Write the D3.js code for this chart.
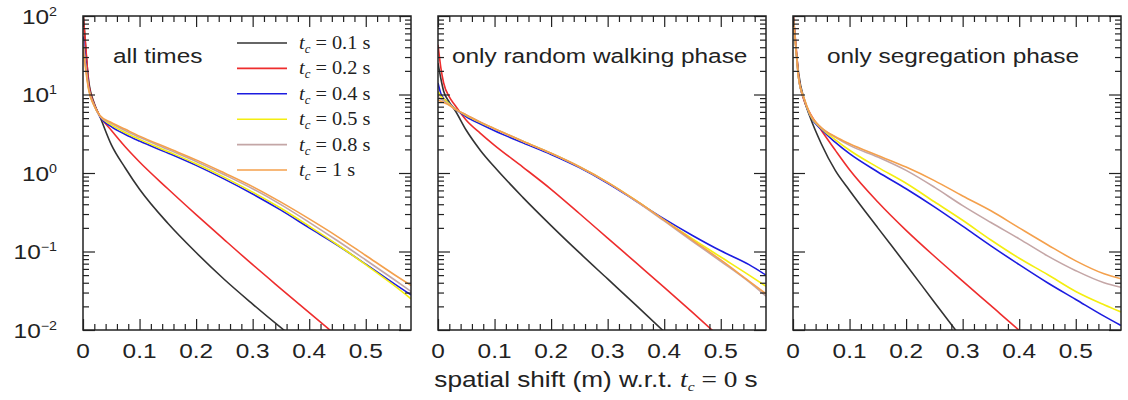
<!DOCTYPE html>
<html lang="en">
<head>
<meta charset="UTF-8">
<title>Spatial shift distributions</title>
<style>
  body { margin: 0; background: #fff; }
  svg { display: block; }
  .sans { font-family: "Liberation Sans", Arial, sans-serif; fill: #222; }
  .serif { font-family: "Liberation Serif", "Times New Roman", serif; fill: #222; }
  .tick line { stroke: #222; stroke-width: 1.2; }
  .tick text { display: none; }
  .domain { display: none; }
</style>
</head>
<body>
<svg id="chart" width="1128" height="400"></svg>
<script src="https://d3js.org/d3.v7.min.js"></script>
<script>
// ---- data ----
var shiftX = [0, 0.005, 0.01, 0.02, 0.03, 0.05, 0.075, 0.1, 0.15, 0.2, 0.25, 0.3, 0.35, 0.4, 0.45, 0.5, 0.55, 0.58];

var seriesLabels = ["0.1", "0.2", "0.4", "0.5", "0.8", "1"];
var seriesColors = ["#333333", "#ee2d2d", "#1c1ce0", "#f4ee10", "#c4a6a6", "#f4a04c"];

var panelTitles = ["all times", "only random walking phase", "only segregation phase"];
var xTicks = [0, 0.1, 0.2, 0.3, 0.4, 0.5];
var yTickExp = ["2", "1", "0", "\u22121", "\u22122"];
var yTickVals = [100, 10, 1, 0.1, 0.01];

// panel 1: all times
var allTimes = [
  [120, 37, 15, 7.7, 5.2, 2.3, 1.15, 0.62, 0.229, 0.097, 0.044, 0.0214, 0.0107, 0.0055, null, null, null, null],
  [110, 40, 14, 7.5, 5.3, 3.5, 2.14, 1.38, 0.63, 0.295, 0.141, 0.068, 0.0335, 0.0166, 0.0083, null, null, null],
  [55, 25, 12.5, 7.3, 5.2, 3.9, 3.1, 2.55, 1.8, 1.25, 0.835, 0.54, 0.336, 0.2, 0.12, 0.069, 0.039, 0.028],
  [45, 22, 12, 7.2, 5.3, 4.1, 3.25, 2.68, 1.88, 1.31, 0.88, 0.57, 0.355, 0.21, 0.122, 0.068, 0.037, 0.025],
  [50, 22, 12, 7.2, 5.3, 4.3, 3.45, 2.85, 2.0, 1.4, 0.95, 0.63, 0.395, 0.235, 0.137, 0.078, 0.044, 0.031],
  [40, 20, 11.5, 7.1, 5.4, 4.4, 3.6, 2.95, 2.08, 1.47, 1.0, 0.67, 0.425, 0.26, 0.155, 0.089, 0.051, 0.037]
];

// panel 2: only random walking phase
var randomWalk = [
  [25, 16, 11, 8, 6.3, 3.5, 1.94, 1.19, 0.49, 0.214, 0.0966, 0.0447, 0.0207, 0.0095, null, null, null, null],
  [43, 22, 14, 9.3, 7.3, 4.7, 3.2, 2.25, 1.19, 0.62, 0.305, 0.148, 0.072, 0.035, 0.0168, 0.0079, null, null],
  [14, 10.3, 8.9, 7.7, 6.6, 5.2, 4.2, 3.45, 2.42, 1.72, 1.17, 0.74, 0.44, 0.26, 0.16, 0.102, 0.068, 0.05],
  [11, 9.5, 8.8, 7.6, 6.6, 5.4, 4.4, 3.65, 2.53, 1.78, 1.2, 0.76, 0.447, 0.251, 0.145, 0.085, 0.05, 0.036],
  [9.5, 8.8, 8.3, 7.4, 6.5, 5.5, 4.45, 3.67, 2.54, 1.78, 1.2, 0.755, 0.44, 0.245, 0.135, 0.075, 0.041, 0.027],
  [8.5, 8.2, 7.9, 7.3, 6.5, 5.5, 4.45, 3.67, 2.54, 1.78, 1.2, 0.76, 0.447, 0.251, 0.14, 0.078, 0.042, 0.029]
];

// panel 3: only segregation phase
var segregation = [
  [120, 41, 18.5, 8.5, 5.2, 2.36, 1.07, 0.6, 0.2, 0.068, 0.0226, 0.0076, null, null, null, null, null, null],
  [110, 45, 17, 8.2, 5.8, 3.5, 1.94, 1.1, 0.427, 0.186, 0.087, 0.042, 0.0204, 0.0099, 0.0047, null, null, null],
  [100, 40, 16, 8.5, 5.4, 3.6, 2.45, 1.76, 1.03, 0.63, 0.37, 0.21, 0.118, 0.068, 0.04, 0.0245, 0.015, 0.0114],
  [100, 40, 16, 8.6, 5.5, 3.7, 2.65, 1.95, 1.18, 0.74, 0.43, 0.25, 0.14, 0.082, 0.051, 0.031, 0.021, 0.017],
  [100, 40, 16, 8.7, 5.6, 3.75, 2.85, 2.25, 1.6, 1.08, 0.66, 0.384, 0.234, 0.145, 0.088, 0.057, 0.04, 0.035],
  [100, 40, 16, 8.8, 5.7, 3.8, 2.9, 2.36, 1.67, 1.19, 0.8, 0.51, 0.33, 0.2, 0.122, 0.076, 0.052, 0.045]
];

var panelData = [allTimes, randomWalk, segregation];

// ---- layout ----
var SX = 1.19;               // reference text is drawn a bit wide
var panelLeft = [83, 438, 793];
var pw = 328, plotTop = 16, plotBottom = 330;
var titleOffset = [30, 14, 34];

var svg = d3.select("#chart");

var y = d3.scaleLog().domain([0.01, 100]).range([plotBottom, plotTop]);

var yMinor = [];
[0.01, 0.1, 1, 10].forEach(function(d) {
  for (var k = 2; k <= 9; k++) yMinor.push(d * k);
});
var xMinor = d3.range(0.02, 0.58, 0.02).filter(function(v) {
  return Math.abs(v * 10 - Math.round(v * 10)) > 1e-6;
});

function stretched(parent, x, yy, cls, size, anchor) {
  return parent.append("text")
    .attr("class", cls)
    .attr("transform", "translate(" + x + "," + yy + ") scale(" + SX + ",1)")
    .attr("text-anchor", anchor)
    .style("font-size", size + "px");
}

panelData.forEach(function(series, p) {
  var left = panelLeft[p];
  var x = d3.scaleLinear().domain([0, 0.58]).range([left, left + pw]);
  var g = svg.append("g");

  g.append("clipPath").attr("id", "clip" + p)
    .append("rect").attr("x", left).attr("y", plotTop).attr("width", pw).attr("height", plotBottom - plotTop);

  var line = d3.line()
    .defined(function(d) { return d != null; })
    .x(function(d, i) { return x(shiftX[i]); })
    .y(function(d) { return y(d); })
    .curve(d3.curveMonotoneX);

  g.append("g").attr("clip-path", "url(#clip" + p + ")")
    .selectAll("path").data(series).enter().append("path")
    .attr("d", line)
    .attr("fill", "none")
    .attr("stroke", function(d, i) { return seriesColors[i]; })
    .attr("stroke-width", 1.6);

  // ticks pointing inward on all four sides
  g.append("g").attr("transform", "translate(0," + plotBottom + ")")
    .call(d3.axisBottom(x).tickValues(xTicks).tickSize(-11));
  g.append("g").attr("transform", "translate(0," + plotBottom + ")")
    .call(d3.axisBottom(x).tickValues(xMinor).tickSize(-6));
  g.append("g").attr("transform", "translate(0," + plotTop + ")")
    .call(d3.axisTop(x).tickValues(xTicks).tickSize(-11));
  g.append("g").attr("transform", "translate(0," + plotTop + ")")
    .call(d3.axisTop(x).tickValues(xMinor).tickSize(-6));
  g.append("g").attr("transform", "translate(" + left + ",0)")
    .call(d3.axisLeft(y).tickValues(yTickVals).tickSize(-12));
  g.append("g").attr("transform", "translate(" + left + ",0)")
    .call(d3.axisLeft(y).tickValues(yMinor).tickSize(-6));
  g.append("g").attr("transform", "translate(" + (left + pw) + ",0)")
    .call(d3.axisRight(y).tickValues(yTickVals).tickSize(-12));
  g.append("g").attr("transform", "translate(" + (left + pw) + ",0)")
    .call(d3.axisRight(y).tickValues(yMinor).tickSize(-6));

  g.append("rect")
    .attr("x", left).attr("y", plotTop).attr("width", pw).attr("height", plotBottom - plotTop)
    .attr("fill", "none").attr("stroke", "#222").attr("stroke-width", 1.5);

  // x tick labels
  xTicks.forEach(function(t) {
    stretched(g, x(t), 358, "sans", 20.5, "middle").text(t === 0 ? "0" : d3.format(".1f")(t));
  });

  // panel title
  stretched(g, left + titleOffset[p], 63, "sans", 20.5, "start").text(panelTitles[p]);
});

// y tick labels (left panel only)
yTickVals.forEach(function(v, i) {
  var t = stretched(svg, 57, y(v) + 7.5, "sans", 20.5, "end");
  t.append("tspan").text("10");
  t.append("tspan").attr("dy", -8).style("font-size", "12px").text(yTickExp[i]);
});

// legend
var legend = svg.append("g");
seriesLabels.forEach(function(lab, i) {
  var ly = 43 + i * 25.4;
  legend.append("line")
    .attr("x1", 237).attr("x2", 287).attr("y1", ly).attr("y2", ly)
    .attr("stroke", seriesColors[i]).attr("stroke-width", 1.6);
  var t = legend.append("text")
    .attr("class", "serif")
    .attr("transform", "translate(299," + (ly + 6) + ") scale(1.07,1)")
    .style("font-size", "19px");
  t.append("tspan").style("font-style", "italic").text("t");
  t.append("tspan").style("font-style", "italic").style("font-size", "12px").attr("dy", 4).text("c");
  t.append("tspan").attr("dy", -4).text(" = " + lab + " s");
});

// x axis title
var xt = stretched(svg, 596, 387, "sans", 22, "middle");
xt.append("tspan").text("spatial shift (m) w.r.t. ");
xt.append("tspan").attr("class", "serif").style("font-style", "italic").style("font-size", "23px").text("t");
xt.append("tspan").attr("class", "serif").style("font-style", "italic").style("font-size", "13px").attr("dy", 4).text("c");
xt.append("tspan").attr("class", "serif").style("font-size", "23px").attr("dy", -4).text(" = 0");
xt.append("tspan").text(" s");
</script>
</body>
</html>
